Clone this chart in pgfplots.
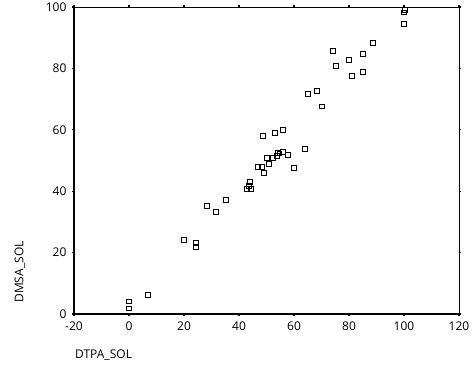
\documentclass[border=0pt]{standalone}
\usepackage{fontspec}
\setmainfont{Open Sans}
\usepackage{pgfplots}
\pgfplotsset{compat=1.18}
\begin{document}
\begin{tikzpicture}[x=1pt,y=1pt]
\path[use as bounding box] (0,0) rectangle (473,380);
\begin{axis}[
  at={(74pt,66pt)}, anchor=south west,
  scale only axis, width=385pt, height=307pt,
  xmin=-20, xmax=120, ymin=0, ymax=100,
  xtick={-20,0,20,40,60,80,100,120},
  ytick={0,20,40,60,80,100},
  tick align=outside, major tick length=2pt,
  tick style={black, line width=1.2pt},
  axis line style={black, line width=0.8pt},
  ticklabel style={font=\fontsize{12}{14}\selectfont},
  /pgf/number format/assume math mode=true,
  xticklabel style={yshift=-2pt},
  yticklabel style={xshift=-2pt},
  clip=false,
]
\addplot[only marks, mark=square, mark size=2.2pt, mark options={black, line width=1pt}] coordinates {
(100.4,99.0) (100.0,98.3) (100.0,94.5)
(88.7,88.3) (74.2,85.7) (85.1,84.7) (80.0,82.7) (75.3,80.8) (85.1,78.8) (81.1,77.5)
(65.1,71.7) (68.4,72.6) (70.2,67.6)
(48.7,58.0) (53.1,59.0) (56.0,59.9) (64.0,53.7)
(56.0,52.8) (57.8,51.8) (54.2,52.4) (54.8,52.2) (53.8,51.5) (52.4,50.8) (50.2,50.8) (50.9,48.9)
(60.0,47.6) (46.9,47.9) (48.4,47.9) (49.1,45.9)
(44.0,43.0) (43.6,41.7) (42.9,40.7) (44.4,40.7)
(35.3,37.1) (28.4,35.2) (31.6,33.2)
(20.0,24.1) (24.4,23.1) (24.4,21.8)
(6.9,6.2) (0.0,4.0) (0.0,1.8)
};
\end{axis}
\draw[black, line width=1.4pt] (74,66) -- (74,373);
\draw[black, line width=1.4pt] (74,66) -- (459,66);
\node[anchor=west, font=\fontsize{12}{14}\selectfont, inner sep=0pt] at (75,25) {DTPA\_SOL};
\node[rotate=90, font=\fontsize{12}{14}\selectfont, inner sep=0pt] at (20,108) {DMSA\_SOL};
\end{tikzpicture}
\end{document}
